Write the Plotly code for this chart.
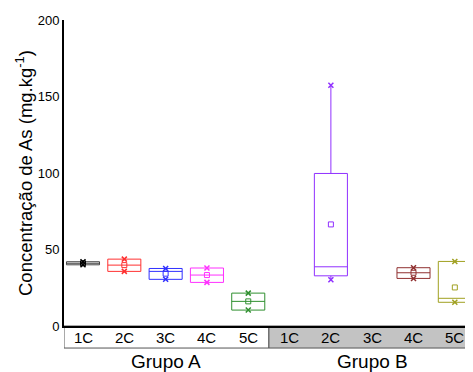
import plotly.graph_objects as go

# ---- data ----
categories = ["1C", "2C", "3C", "4C", "5C", "1C", "2C", "3C", "4C", "5C"]
groups = ["Grupo A", "Grupo B"]

# positions (index into categories) that have data
box_pos = [0, 1, 2, 3, 4, 6, 8, 9]
box_min = [40.0, 35.7, 30.5, 28.5, 10.4, 30.2, 31.1, 15.5]
box_q1 = [40.0, 35.7, 30.5, 28.5, 10.4, 32.8, 31.1, 15.5]
box_median = [41.0, 39.8, 35.7, 33.3, 16.1, 38.7, 34.8, 18.1]
box_q3 = [42.0, 43.7, 37.6, 37.9, 21.5, 99.7, 38.1, 42.2]
box_max = [42.0, 43.7, 37.6, 37.9, 21.5, 157.3, 38.1, 42.2]
box_mean = [41.0, 39.8, 34.2, 33.3, 16.1, 66.4, 34.8, 25.2]
box_colors = ["#444444", "#FF3030", "#3030FF", "#FF30FF", "#309030",
              "#9030FF", "#903030", "#A0A020"]

yticks = [0, 50, 100, 150, 200]

fig = go.Figure()

for i, p in enumerate(box_pos):
    c = box_colors[i]
    mc = c if i else "#000000"
    fig.add_trace(go.Box(
        x=[p], q1=[box_q1[i]], median=[box_median[i]], q3=[box_q3[i]],
        lowerfence=[box_min[i]], upperfence=[box_max[i]],
        width=0.8, whiskerwidth=0, boxpoints=False,
        line=dict(color=c, width=1), fillcolor="rgba(0,0,0,0)",
        showlegend=False, hoverinfo="skip",
    ))
    fig.add_trace(go.Scatter(
        x=[p, p], y=[box_min[i], box_max[i]], mode="markers",
        marker=dict(symbol="x-thin", size=5, line=dict(color=mc, width=1.5)),
        showlegend=False, hoverinfo="skip",
    ))
    fig.add_trace(go.Scatter(
        x=[p], y=[box_mean[i]], mode="markers",
        marker=dict(symbol="square-open", size=5, color=mc, line=dict(width=1)),
        showlegend=False, hoverinfo="skip",
    ))

xmin, xmax = -0.46, 9.44
band_h = -0.072

shapes = [
    dict(type="rect", xref="x", yref="paper", x0=xmin, x1=4.5, y0=band_h, y1=0,
         fillcolor="white", line=dict(color="#555555", width=1), layer="below"),
    dict(type="rect", xref="x", yref="paper", x0=4.5, x1=xmax, y0=band_h, y1=0,
         fillcolor="#C3C3C3", line=dict(color="#555555", width=1), layer="below"),
]

annotations = []
for i, cat in enumerate(categories):
    annotations.append(dict(x=i, y=band_h / 2, xref="x", yref="paper", text=cat,
                            showarrow=False, font=dict(size=15, color="#000"),
                            xanchor="center", yanchor="middle"))
for g, gx in zip(groups, [2, 7]):
    annotations.append(dict(x=gx, y=-0.115, xref="x", yref="paper", text=g,
                            showarrow=False, font=dict(size=19, color="#000"),
                            xanchor="center", yanchor="middle"))

# page body has an 8px margin, so the figure is drawn 8px smaller
fig.update_layout(
    width=465, height=364,
    margin=dict(l=56, r=0, t=12, b=46),
    paper_bgcolor="white", plot_bgcolor="white",
    font=dict(family="Liberation Sans, Arial", color="#000"),
    shapes=shapes, annotations=annotations,
    xaxis=dict(range=[xmin, xmax], showticklabels=False, ticks="", showgrid=False,
               zeroline=False, showline=True, linecolor="black", linewidth=2),
    yaxis=dict(range=[0, 200], tickvals=yticks, ticks="", showgrid=False,
               zeroline=False, showline=True, linecolor="black", linewidth=2,
               tickfont=dict(size=13), automargin=False,
               title=dict(text="Concentração de As (mg.kg<sup>-1</sup>)",
                          font=dict(size=18.5), standoff=0)),
)

fig.write_html("out.html")
